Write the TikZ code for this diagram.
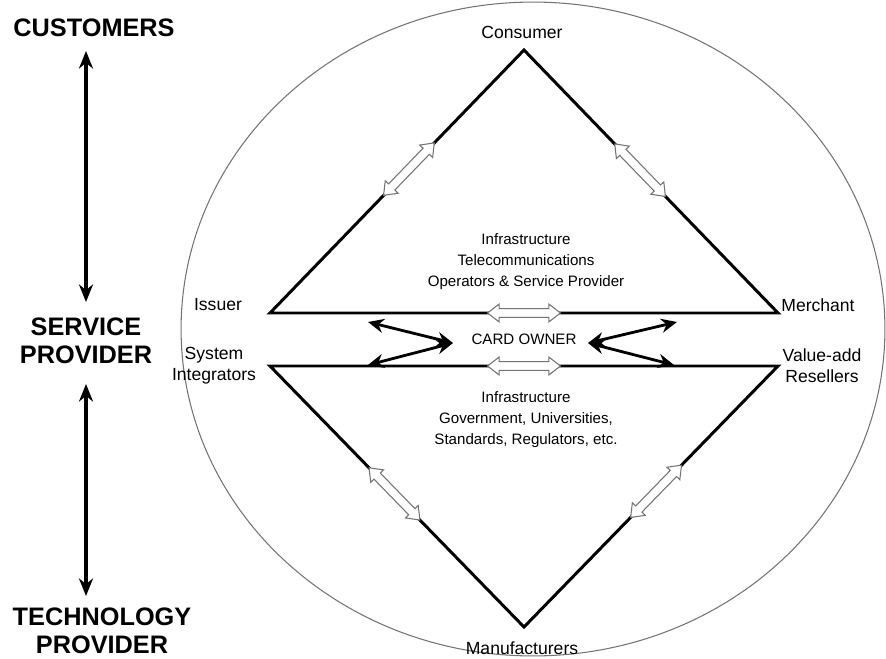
\documentclass[tikz,border=0pt]{standalone}
\usepackage{fontspec}
\setmainfont{Liberation Sans}
\usetikzlibrary{arrows.meta,shapes.arrows}

\tikzset{
  side/.style={font=\fontsize{10}{12}\selectfont, align=center},
  infra/.style={font=\fontsize{8.6}{12}\selectfont, align=center},
  role/.style={font=\fontsize{14.4}{15.9}\selectfont\bfseries, align=center},
  edge/.style={line width=1.7pt, line join=miter},
  hollow/.style={double arrow, draw=black!55, fill=white, line width=0.6pt,
    minimum height=1.46cm, inner sep=2.2pt,
    double arrow head extend=2.6pt, double arrow tip angle=75},
  link/.style={{Stealth[length=9pt,width=8pt]}-{Stealth[length=9pt,width=8pt]}, line width=1.6pt},
  level/.style={{Stealth[length=10pt,width=8pt]}-{Stealth[length=10pt,width=8pt]}, line width=2pt}
}

\begin{document}
\begin{tikzpicture}[x=0.02cm, y=-0.02cm]
\useasboundingbox (0,0) rectangle (886,659);

% outer ring
\draw[black!55, line width=0.6pt] (533,329) ellipse [x radius=7.04cm, y radius=6.54cm];

% corners of the two triangles
\coordinate (consumer) at (524,50);
\coordinate (issuer) at (270,313);
\coordinate (merchant) at (778,313);
\coordinate (integrators) at (270,366);
\coordinate (resellers) at (778,366);
\coordinate (manufacturers) at (524,627);

\draw[edge] (issuer) -- node[hollow, sloped, pos=0.547] {} (consumer)
  -- node[hollow, sloped, pos=0.457] {} (merchant)
  -- node[hollow, pos=0.5] {} cycle;
\draw[edge] (integrators) -- node[hollow, pos=0.5] {} (resellers)
  -- node[hollow, sloped, pos=0.48] {} (manufacturers)
  -- node[hollow, sloped, pos=0.51] {} cycle;

% labels
\node (t1) [side] at (522,32) {Consumer};
\node (t2) [side] at (218,305) {Issuer};
\node (t3) [side] at (818,305) {Merchant};
\node (t4) [side] at (214,366) {System\\Integrators};
\node (t5) [side] at (822,366) {Value-add\\Resellers};
\node (t6) [side] at (522,648) {Manufacturers};
\node (up) [infra] at (526,262) {Infrastructure\\Telecommunications\\Operators \& Service Provider};
\node (down) [infra] at (526,420) {Infrastructure\\Government, Universities,\\Standards, Regulators, etc.};
\node (owner) [infra] at (524,339) {CARD OWNER};

% card owner links
\coordinate (l1) at (368,322);
\coordinate (l2) at (368,365);
\coordinate (lm) at (453,343);
\coordinate (r1) at (677,322);
\coordinate (r2) at (674,365);
\coordinate (rm) at (588,343);
\draw[link] (l1) -- (lm);
\draw[link] (l2) -- (lm);
\draw[link] (r1) -- (rm);
\draw[link] (r2) -- (rm);

% left scale
\node (cust) [role] at (94,28) {CUSTOMERS};
\node (serv) [role] at (86,341) {SERVICE\\PROVIDER};
\node (tech) [role] at (102,631) {TECHNOLOGY\\PROVIDER};
\coordinate (a1) at (86,51);
\coordinate (a2) at (86,302);
\coordinate (a3) at (86,384);
\coordinate (a4) at (86,596);
\draw[level] (a1) -- (a2);
\draw[level] (a3) -- (a4);
\end{tikzpicture}
\end{document}
